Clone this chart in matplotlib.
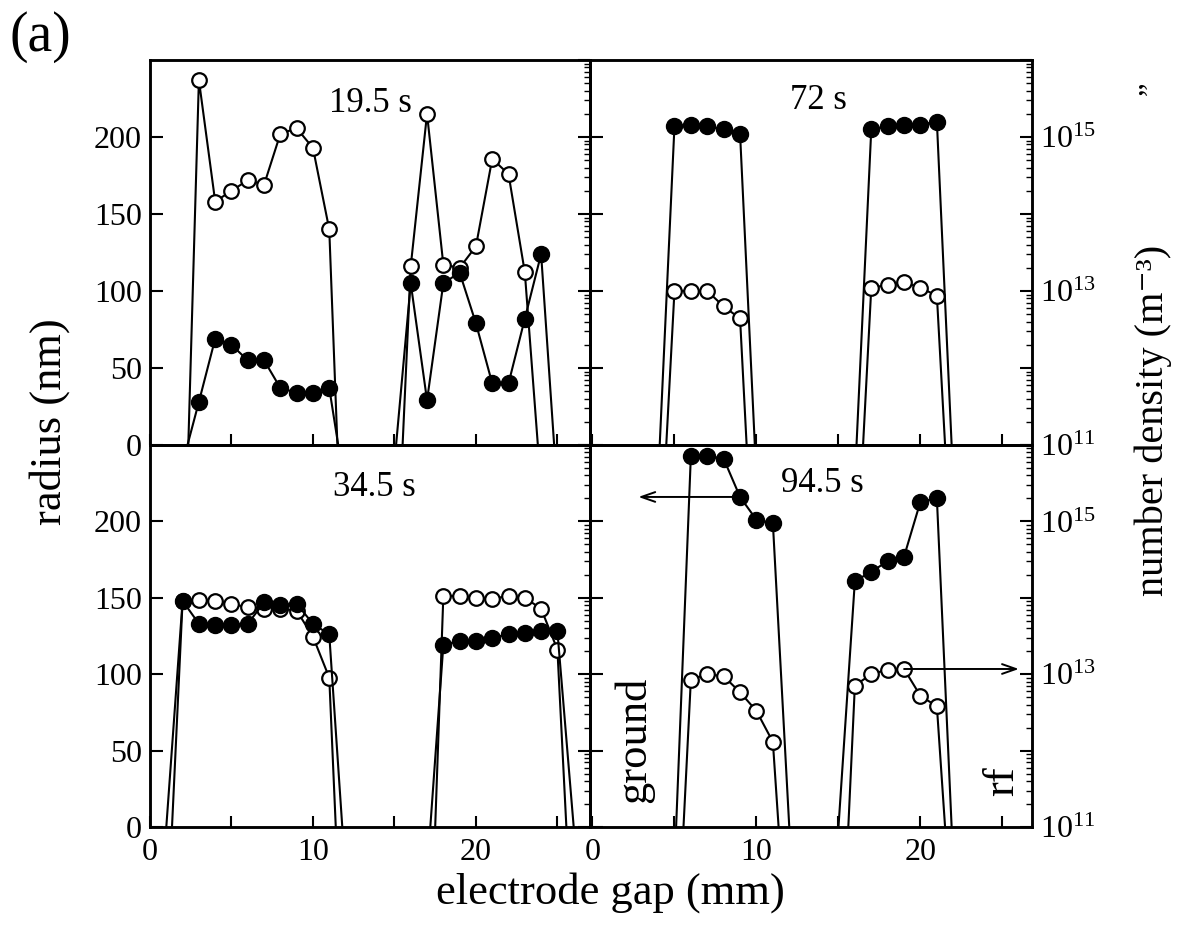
"""Particle radius and number density across the electrode gap, four times."""

import math

import matplotlib
matplotlib.use("Agg")
import matplotlib.pyplot as plt
from matplotlib.ticker import FixedLocator, LogLocator, NullFormatter, FuncFormatter


# 19.5 s
rad_195_x1 = [2.3, 3, 4, 5, 6, 7, 8, 9, 10, 11, 11.55]
rad_195_y1 = [0, 28, 69, 65, 55, 55, 37, 34, 34, 37, 0]
den_195_x1 = [2.35, 3, 4, 5, 6, 7, 8, 9, 10, 11, 11.5]
den_195_y1 = [1e11, 5.5e15, 1.45e14, 2.0e14, 2.75e14, 2.4e14, 1.1e15, 1.3e15, 7.2e14, 6.3e13, 1e11]
rad_195_x2 = [15.1, 16, 17, 18, 19, 20, 21, 22, 23, 24, 24.8]
rad_195_y2 = [0, 105, 29, 105, 112, 79, 40, 40, 82, 124, 0]
den_195_x2 = [15.5, 16, 17, 18, 19, 20, 21, 22, 23, 23.8]
den_195_y2 = [1e11, 2.1e13, 2.0e15, 2.2e13, 2.0e13, 3.8e13, 5.2e14, 3.3e14, 1.75e13, 1e11]

# 72 s
rad_72_x1 = [4.1, 5, 6, 7, 8, 9, 9.9]
rad_72_y1 = [0, 207, 208, 207, 205, 202, 0]
den_72_x1 = [4.5, 5, 6, 7, 8, 9, 9.4]
den_72_y1 = [1e11, 1.0e13, 1.0e13, 1.0e13, 6.3e12, 4.4e12, 1e11]
rad_72_x2 = [16.1, 17, 18, 19, 20, 21, 21.9]
rad_72_y2 = [0, 205, 207, 208, 208, 210, 0]
den_72_x2 = [16.5, 17, 18, 19, 20, 21, 21.5]
den_72_y2 = [1e11, 1.1e13, 1.2e13, 1.3e13, 1.1e13, 8.7e12, 1e11]

# 34.5 s
rad_345_x1 = [1.0, 2, 3, 4, 5, 6, 7, 8, 9, 10, 11, 11.8]
rad_345_y1 = [0, 148, 133, 132, 132, 133, 147, 145, 146, 133, 126, 0]
den_345_x1 = [1.35, 2, 3, 4, 5, 6, 7, 8, 9, 10, 11, 11.4]
den_345_y1 = [1e11, 9.1e13, 9.3e13, 9.2e13, 8.2e13, 7.6e13, 7.2e13, 7.2e13, 6.8e13, 3.1e13, 9.0e12, 1e11]
rad_345_x2 = [17.2, 18, 19, 20, 21, 22, 23, 24, 25, 26.0]
rad_345_y2 = [0, 119, 122, 122, 124, 126, 127, 128, 128, 0]
den_345_x2 = [17.5, 18, 19, 20, 21, 22, 23, 24, 25, 25.55]
den_345_y2 = [1e11, 1.05e14, 1.06e14, 1.0e14, 9.7e13, 1.06e14, 1.0e14, 7.2e13, 2.1e13, 1e11]

# 94.5 s
rad_945_x1 = [5.1, 6, 7, 8, 9, 10, 11, 12.0]
rad_945_y1 = [0, 243, 243, 241, 216, 201, 199, 0]
den_945_x1 = [5.55, 6, 7, 8, 9, 10, 11, 11.35]
den_945_y1 = [1e11, 8.5e12, 1.0e13, 9.4e12, 5.8e12, 3.3e12, 1.3e12, 1e11]
rad_945_x2 = [15.0, 16, 17, 18, 19, 20, 21, 21.9]
rad_945_y2 = [0, 161, 167, 174, 177, 213, 215, 0]
den_945_x2 = [15.6, 16, 17, 18, 19, 20, 21, 21.5]
den_945_y2 = [1e11, 7.1e12, 1.0e13, 1.15e13, 1.17e13, 5.2e12, 3.8e12, 1e11]

panel_times = ["19.5 s", "72 s", "34.5 s", "94.5 s"]
radius_ticks = [0, 50, 100, 150, 200]
gap_ticks = [0, 5, 10, 15, 20, 25]
gap_labels = ["0", "", "10", "", "20", ""]
labelled_decades = [11, 13, 15]

plt.rcParams["font.family"] = ["Liberation Serif", "DejaVu Serif"]
plt.rcParams["mathtext.fontset"] = "custom"
plt.rcParams["mathtext.rm"] = "Liberation Serif"

fig = plt.figure(figsize=(11.8, 9.26), dpi=100)

# pixel boxes of the four panels: left, right, top, bottom
W, H = 1180, 926
boxes = [
    (150, 590, 60, 445),
    (590, 1032, 60, 445),
    (150, 590, 445, 827),
    (590, 1032, 445, 827),
]
xlims = [(0, 27), (-0.15, 26.8), (0, 27), (-0.15, 26.8)]
label_pos = [(0.50, 0.888), (0.516, 0.896), (0.511, 0.89), (0.525, 0.90)]

panels = [
    [(rad_195_x1, rad_195_y1), (rad_195_x2, rad_195_y2),
     (den_195_x1, den_195_y1), (den_195_x2, den_195_y2)],
    [(rad_72_x1, rad_72_y1), (rad_72_x2, rad_72_y2),
     (den_72_x1, den_72_y1), (den_72_x2, den_72_y2)],
    [(rad_345_x1, rad_345_y1), (rad_345_x2, rad_345_y2),
     (den_345_x1, den_345_y1), (den_345_x2, den_345_y2)],
    [(rad_945_x1, rad_945_y1), (rad_945_x2, rad_945_y2),
     (den_945_x1, den_945_y1), (den_945_x2, den_945_y2)],
]


def decade_label(val, pos):
    exp = int(round(math.log10(val)))
    if exp in labelled_decades:
        return r"$\mathregular{10^{%d}}$" % exp
    return ""


axes = []
for i, (l, r, t, b) in enumerate(boxes):
    ax = fig.add_axes([l / W, 1 - b / H, (r - l) / W, (b - t) / H])
    ax2 = ax.twinx()
    # radius (filled) drawn above density (open)
    ax.set_zorder(ax2.get_zorder() + 1)
    ax.patch.set_visible(False)

    ax.set_xlim(*xlims[i])
    ax.set_ylim(0, 250)
    ax2.set_yscale("log")
    ax2.set_ylim(1e11, 1e16)

    rad1, rad2, den1, den2 = panels[i]
    for xs, ys in (rad1, rad2):
        ax.plot(xs, ys, color="black", lw=1.5, marker="o", ms=11.5,
                mfc="black", mec="black", markevery=slice(1, -1))
    for xs, ys in (den1, den2):
        ax2.plot(xs, ys, color="black", lw=1.5, marker="o", ms=10.5,
                 mfc="white", mec="black", mew=1.6, markevery=slice(1, -1))

    for a in (ax, ax2):
        for sp in a.spines.values():
            sp.set_linewidth(1.8)

    ax.yaxis.set_major_locator(FixedLocator(radius_ticks))
    ax.xaxis.set_major_locator(FixedLocator(gap_ticks))
    ax.set_xticklabels(gap_labels)
    ax.tick_params(axis="y", direction="in", length=9, width=1.5, labelsize=23,
                   left=True, right=False, labelleft=(i % 2 == 0), pad=6)
    ax.tick_params(axis="x", direction="in", length=8, width=1.5, labelsize=23,
                   top=False, bottom=True, labelbottom=(i >= 2), pad=8)

    ax2.yaxis.set_major_locator(LogLocator(base=10, numticks=10))
    ax2.yaxis.set_minor_locator(LogLocator(base=10, subs=range(2, 10), numticks=10))
    ax2.yaxis.set_major_formatter(FuncFormatter(decade_label))
    ax2.yaxis.set_minor_formatter(NullFormatter())
    ax2.tick_params(axis="y", which="major", direction="in", length=9, width=1.5,
                    labelsize=23, labelright=(i % 2 == 1), pad=6)
    ax2.tick_params(axis="y", which="minor", direction="in", length=4.5, width=1.0)

    ax.text(label_pos[i][0], label_pos[i][1], panel_times[i], transform=ax.transAxes,
            ha="center", va="center", fontsize=25)
    axes.append((ax, ax2))

# arrows in the 94.5 s panel: filled -> radius axis, open -> density axis
ax, ax2 = axes[3]
ax.annotate("", xy=(2.8, 216), xytext=(9, 216),
            arrowprops=dict(arrowstyle="->,head_length=1.0,head_width=0.35", lw=1.4,
                            color="black", shrinkA=0, shrinkB=0))
ax2.annotate("", xy=(26.0, 1.17e13), xytext=(19, 1.17e13),
             arrowprops=dict(arrowstyle="->,head_length=1.0,head_width=0.35", lw=1.4,
                             color="black", shrinkA=0, shrinkB=0))
ax.text(2.5, 57, "ground", rotation=90, ha="center", va="center", fontsize=32)
ax.text(25.0, 30, "rf", rotation=90, ha="center", va="center", fontsize=32)

fig.text(40 / W, 1 - 37 / H, "(a)", ha="center", va="center", fontsize=40)
fig.text(610 / W, 1 - 893 / H, "electrode gap (mm)", ha="center", va="center", fontsize=32)
fig.text(50 / W, 1 - 422 / H, "radius (nm)", rotation=90, ha="center", va="center",
         fontsize=32)
fig.text(1153 / W, 1 - 420 / H, "number density (m\u207b\u00b3)", rotation=90,
         ha="center", va="center", fontsize=29)
fig.text(1152 / W, 1 - 88 / H, "\u201d", rotation=90, ha="center", va="center",
         fontsize=22)

fig.savefig("out.png", dpi=100)
